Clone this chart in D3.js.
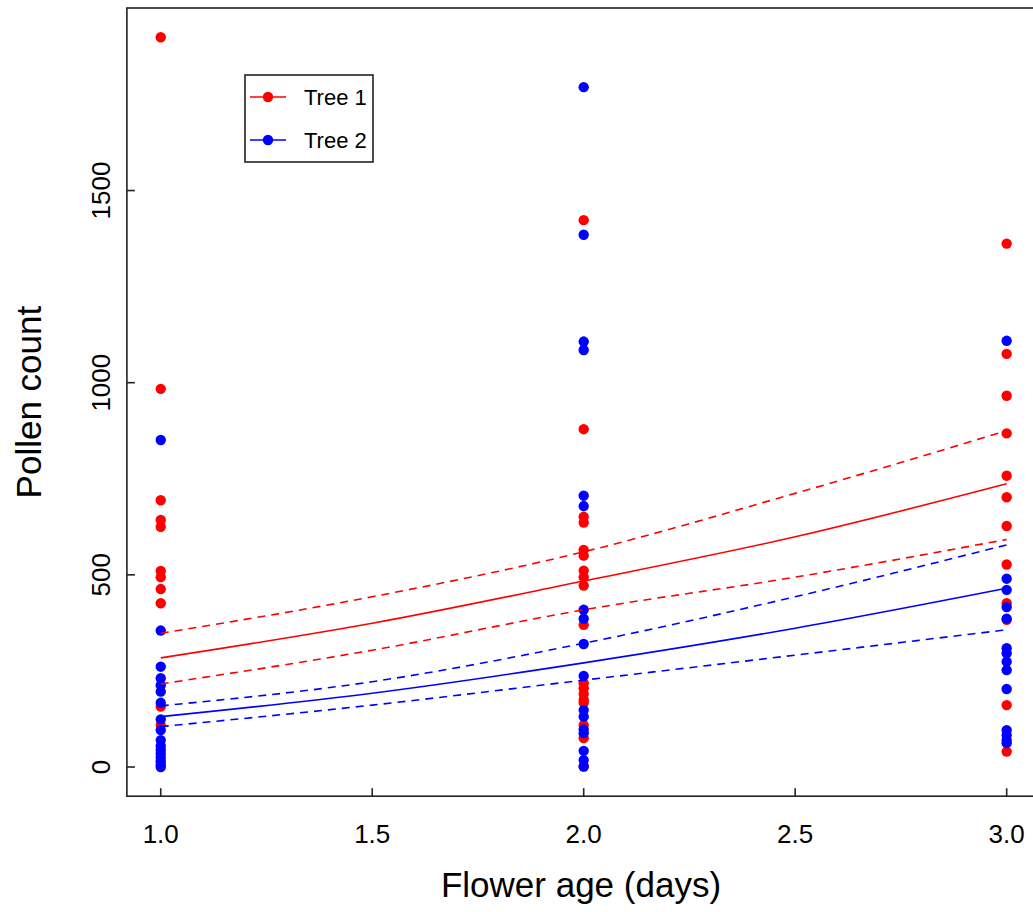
<!DOCTYPE html>
<html>
<head>
<meta charset="utf-8">
<script src="https://cdn.jsdelivr.net/npm/d3@7/dist/d3.min.js"></script>
<style>
  html, body { margin: 0; padding: 0; background: #fff; }
  svg { display: block; font-family: "Liberation Sans", Arial, sans-serif; }
</style>
</head>
<body>
<svg id="chart" width="1033" height="912"></svg>
<script>
// ---- Data ----
const seriesNames = ["Tree 1", "Tree 2"];
const seriesColors = ["#FF0000", "#0000FF"];

// Observed pollen counts by flower age (days)
const tree1Day1 = [1899, 984, 694, 643, 625, 510, 494, 463, 426, 157, 109];
const tree1Day2 = [1423, 879, 651, 636, 565, 550, 511, 494, 472, 370, 218, 205, 190, 175, 167, 109, 75, 2];
const tree1Day3 = [1362, 1075, 966, 868, 758, 702, 627, 527, 426, 383, 161, 40];
const tree2Day1 = [851, 355, 261, 231, 213, 196, 167, 124, 96, 70, 55, 45, 35, 25, 15, 5, 0];
const tree2Day2 = [1769, 1385, 1107, 1085, 706, 679, 409, 386, 320, 237, 148, 131, 98, 88, 42, 18, 1];
const tree2Day3 = [1109, 490, 461, 416, 386, 309, 296, 274, 252, 203, 96, 83, 70, 62];

// Fitted curves and confidence bands
const fitAges = [1, 1.5, 2, 2.5, 3];
const tree1Fit = [284, 374, 484, 599, 737];
const tree1Upper = [348, 443, 560, 712, 875];
const tree1Lower = [216, 304, 409, 494, 592];
const tree2Fit = [131, 192, 271, 361, 465];
const tree2Upper = [159, 222, 322, 443, 578];
const tree2Lower = [105, 161, 226, 291, 357];

// Axis ticks
const xTicks = [1.0, 1.5, 2.0, 2.5, 3.0];
const yTicks = [0, 500, 1000, 1500];
const xTitle = "Flower age (days)";
const yTitle = "Pollen count";

// ---- Build ----
const svg = d3.select("#chart");
const x = d3.scaleLinear().domain([0.92, 3.08]).range([126.9, 1040.5]);
const y = d3.scaleLinear().domain([-76, 1975]).range([796.2, 8.0]);

const toPts = (age, arr) => arr.map(v => ({ age, v }));
const pointSets = [
  { color: seriesColors[0], pts: [].concat(toPts(1, tree1Day1), toPts(2, tree1Day2), toPts(3, tree1Day3)) },
  { color: seriesColors[1], pts: [].concat(toPts(1, tree2Day1), toPts(2, tree2Day2), toPts(3, tree2Day3)) }
];

pointSets.forEach(s => {
  svg.append("g").selectAll("circle").data(s.pts).enter().append("circle")
    .attr("cx", d => x(d.age)).attr("cy", d => y(d.v)).attr("r", 5.2)
    .attr("fill", s.color);
});

const line = d3.line().x((d, i) => x(fitAges[i])).y(d => y(d)).curve(d3.curveMonotoneX);
const curves = [
  { data: tree1Fit, color: seriesColors[0], dash: null },
  { data: tree1Upper, color: seriesColors[0], dash: "8,6" },
  { data: tree1Lower, color: seriesColors[0], dash: "8,6" },
  { data: tree2Fit, color: seriesColors[1], dash: null },
  { data: tree2Upper, color: seriesColors[1], dash: "8,6" },
  { data: tree2Lower, color: seriesColors[1], dash: "8,6" }
];
curves.forEach(c => {
  svg.append("path").attr("d", line(c.data)).attr("fill", "none")
    .attr("stroke", c.color).attr("stroke-width", 1.6)
    .attr("stroke-dasharray", c.dash);
});

// Plot box
const [x0, x1] = x.range();
const [y0, y1] = y.range();
svg.append("rect").attr("x", x0).attr("y", y1).attr("width", x1 - x0).attr("height", y0 - y1)
  .attr("fill", "none").attr("stroke", "#222").attr("stroke-width", 1.6);

// X ticks (inward)
const ax = svg.append("g");
xTicks.forEach(t => {
  ax.append("line").attr("x1", x(t)).attr("x2", x(t)).attr("y1", y0).attr("y2", y0 - 8)
    .attr("stroke", "#222").attr("stroke-width", 1.6);
  ax.append("text").attr("x", x(t)).attr("y", 843).attr("text-anchor", "middle")
    .attr("font-size", 26).attr("fill", "#000").text(d3.format(".1f")(t));
});
// Y ticks (inward)
yTicks.forEach(t => {
  ax.append("line").attr("x1", x0).attr("x2", x0 + 8).attr("y1", y(t)).attr("y2", y(t))
    .attr("stroke", "#222").attr("stroke-width", 1.6);
  ax.append("text").attr("transform", `translate(110,${y(t)}) rotate(-90)`)
    .attr("text-anchor", "middle").attr("font-size", 26).attr("fill", "#000").text(t);
});

// Axis titles
svg.append("text").attr("x", 581).attr("y", 897).attr("text-anchor", "middle")
  .attr("font-size", 35).attr("fill", "#000").text(xTitle);
svg.append("text").attr("transform", `translate(41,${(y0 + y1) / 2}) rotate(-90)`)
  .attr("text-anchor", "middle").attr("font-size", 35).attr("fill", "#000").text(yTitle);

// Legend
const lg = svg.append("g");
lg.append("rect").attr("x", 245).attr("y", 75).attr("width", 128).attr("height", 87)
  .attr("fill", "#fff").attr("stroke", "#222").attr("stroke-width", 1.6);
seriesNames.forEach((name, i) => {
  const ly = 97 + i * 43;
  lg.append("line").attr("x1", 250).attr("x2", 286).attr("y1", ly).attr("y2", ly)
    .attr("stroke", seriesColors[i]).attr("stroke-width", 1.6);
  lg.append("circle").attr("cx", 268).attr("cy", ly).attr("r", 5.2).attr("fill", seriesColors[i]);
  lg.append("text").attr("x", 304).attr("y", ly + 8).attr("font-size", 22).attr("fill", "#000").text(name);
});
</script>
</body>
</html>
